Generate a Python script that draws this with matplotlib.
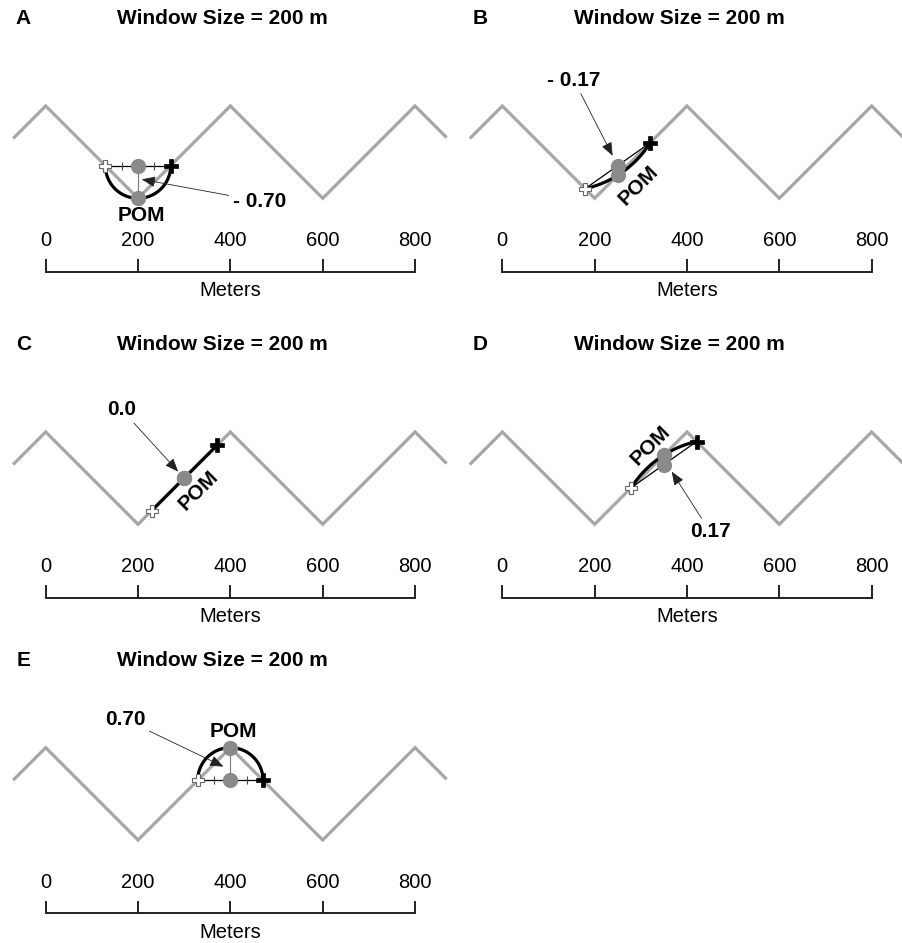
import numpy as np
import matplotlib.pyplot as plt

plt.rcParams['font.family'] = ['Liberation Sans', 'DejaVu Sans']

# data
panel_labels = ['A', 'B', 'C', 'D', 'E']
pom_x = [200, 250, 300, 350, 400]
curv_labels = ['- 0.70', '- 0.17', '0.0', '0.17', '0.70']
window_size = 200
terrain_x = [-68, 0, 200, 400, 600, 800, 866]
terrain_y = [132, 200, 0, 200, 0, 200, 134]
scale_ticks = [0, 200, 400, 600, 800]

# layout (pixels / metres)
W, H = 903, 943
S = 0.4617  # px per metre
panel_box = [(0, 198.3), (450, 198.3), (0, 524.3), (450, 524.3), (0, 840)]
col_x0 = {0: 45.7, 450: 502.3}
value_text_pos = [(463, -6), (155, 256), (165, 248), (450, -16), (172, 261)]
arrow_tip = [(208, 41), (239, 92), (287, 114), (367, 114), (385, 159)]
pom_text_pos = [(208, -38), (295, 29), (330, 74), (320, 172), (406, 235)]
pom_text_rot = [0, 45, 45, 45, 0]

TERRAIN = '#a6a6a6'
DOT = '#8a8a8a'

tx = np.array(terrain_x, float)
ty = np.array(terrain_y, float)
cum = np.concatenate([[0], np.cumsum(np.hypot(np.diff(tx), np.diff(ty)))])


def point_at(d):
    return np.interp(d, cum, tx), np.interp(d, cum, ty)


def arc_through(a, b, c, n=80):
    ax_, ay = a
    bx, by = b
    cx, cy = c
    d = 2 * (ax_ * (by - cy) + bx * (cy - ay) + cx * (ay - by))
    if abs(d) < 1e-6:
        return np.array([ax_, cx]), np.array([ay, cy])
    ux = ((ax_**2 + ay**2) * (by - cy) + (bx**2 + by**2) * (cy - ay) + (cx**2 + cy**2) * (ay - by)) / d
    uy = ((ax_**2 + ay**2) * (cx - bx) + (bx**2 + by**2) * (ax_ - cx) + (cx**2 + cy**2) * (bx - ax_)) / d
    r = np.hypot(ax_ - ux, ay - uy)
    t1 = np.arctan2(ay - uy, ax_ - ux)
    tm = np.arctan2(by - uy, bx - ux)
    t2 = np.arctan2(cy - uy, cx - ux)
    span = (t2 - t1) % (2 * np.pi)
    mid = (tm - t1) % (2 * np.pi)
    if mid > span:
        span -= 2 * np.pi
    t = t1 + np.linspace(0, span, n)
    return ux + r * np.cos(t), uy + r * np.sin(t)


fig = plt.figure(figsize=(W / 100, H / 100), dpi=100)

for i, lab in enumerate(panel_labels):
    left, trough = panel_box[i]
    width = 450 if left == 0 else 453
    x0 = col_x0[left]
    top, bottom = trough - 190, trough + 100
    ax = fig.add_axes([left / W, 1 - bottom / H, width / W, (bottom - top) / H])
    ax.set_xlim((left - x0) / S, (left + width - x0) / S)
    ax.set_ylim(-100 / S, 190 / S)
    ax.axis('off')

    # terrain profile
    ax.plot(tx, ty, color=TERRAIN, lw=2.3, zorder=1, solid_joinstyle='miter')

    # window around the point of measurement
    px = pom_x[i]
    py = np.interp(px, tx, ty)
    s_pom = np.interp(px, tx, cum)
    p1 = point_at(s_pom - window_size / 2)
    p2 = point_at(s_pom + window_size / 2)
    mx, my = (p1[0] + p2[0]) / 2, (p1[1] + p2[1]) / 2

    arc_x, arc_y = arc_through(p1, (px, py), p2)
    ax.plot(arc_x, arc_y, color='black', lw=2.3, zorder=3)
    ax.plot([p1[0], p2[0]], [p1[1], p2[1]], color='black', lw=0.9, zorder=4)
    if abs(my - py) > 40:
        fr = np.array([0.25, 0.75])
        ax.plot(p1[0] + fr * (p2[0] - p1[0]), p1[1] + fr * (p2[1] - p1[1]),
                ls='none', marker='|', ms=6, mew=0.8, color='#444', zorder=4)
        ax.plot([mx, px], [my, py], color='#777', lw=0.8, zorder=4)
    ax.plot([mx], [my], 'o', color=DOT, ms=11, mec='none', zorder=5)
    ax.plot([px], [py], 'o', color=DOT, ms=11, mec='none', zorder=5)
    ax.plot([p1[0]], [p1[1]], marker='P', ms=9, mfc='white', mec='#666', mew=0.8, zorder=6)
    ax.plot([p2[0]], [p2[1]], marker='P', ms=10, color='black', mew=0.5, zorder=6)

    ax.text(pom_text_pos[i][0], pom_text_pos[i][1], 'POM', ha='center', va='center',
            fontsize=15, fontweight='bold', rotation=pom_text_rot[i], zorder=7)
    ax.annotate(curv_labels[i], xy=arrow_tip[i], xytext=value_text_pos[i],
                ha='center', va='center', fontsize=15, fontweight='bold',
                arrowprops=dict(arrowstyle='-|>,head_length=0.55,head_width=0.22',
                                color='#222', lw=0.6, shrinkA=1, shrinkB=0),
                zorder=7)

    # titles
    ax.text(-48, 180 / S, lab, ha='center', va='center', fontsize=15, fontweight='bold')
    ax.text(383, 180 / S, 'Window Size = 200 m', ha='center', va='center',
            fontsize=15, fontweight='bold')

    # scale bar
    bar_y = -73.4 / S
    tick_top = -61.7 / S
    ax.plot([scale_ticks[0], scale_ticks[-1]], [bar_y, bar_y], color='#222', lw=1.4,
            solid_capstyle='butt')
    for t in scale_ticks:
        ax.plot([t, t], [bar_y, tick_top], color='#222', lw=1.4)
        ax.text(t, -42 / S, str(t), ha='center', va='center', fontsize=14.5)
    ax.text(400, -92.5 / S, 'Meters', ha='center', va='center', fontsize=14.5)

fig.savefig('out.png', dpi=100)
